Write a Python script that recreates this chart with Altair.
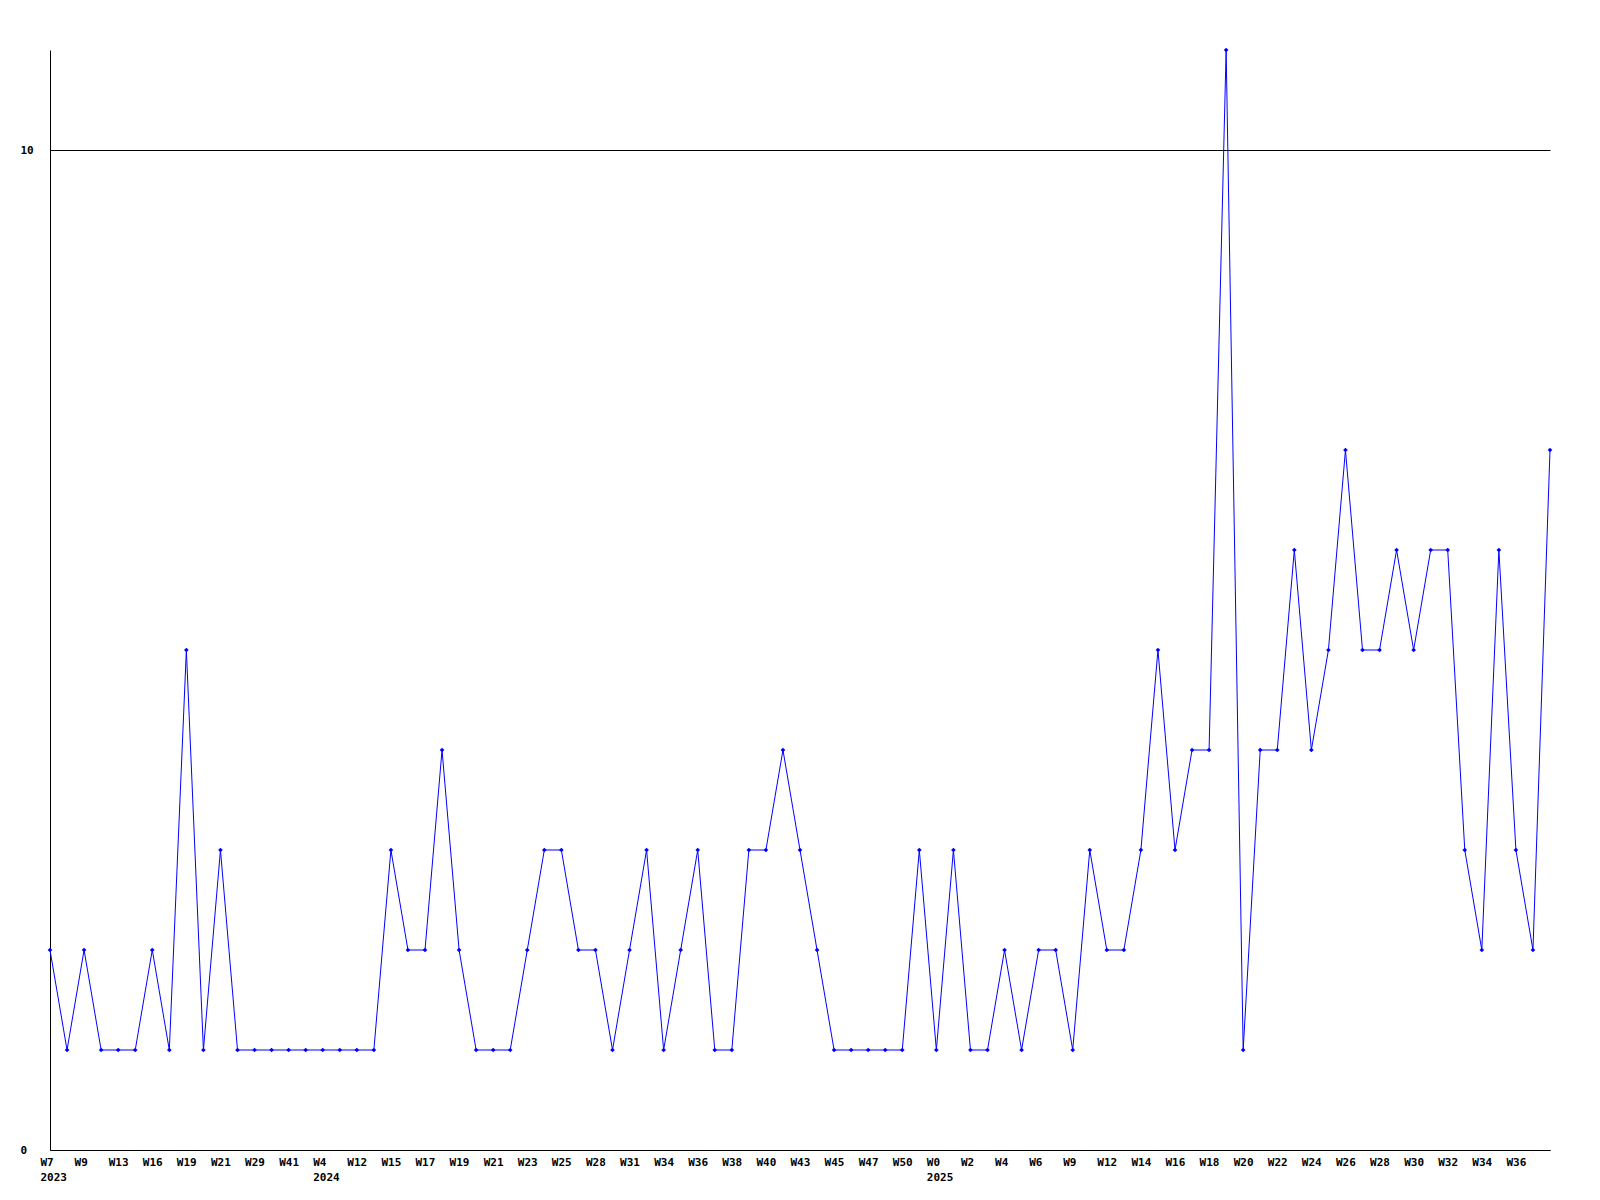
import altair as alt
import pandas as pd

years = ([2023] * 16) + ([2024] * 36) + ([2025] * 37)
weeks = [
    "W7", "W8", "W9", "W11", "W13", "W14", "W16", "W18", "W19", "W20",
    "W21", "W26", "W29", "W35", "W41", "W48",
    "W4", "W8", "W12", "W14", "W15", "W16", "W17", "W18", "W19", "W20",
    "W21", "W22", "W23", "W24", "W25", "W27", "W28", "W30", "W31", "W33",
    "W34", "W35", "W36", "W37", "W38", "W39", "W40", "W42", "W43", "W44",
    "W45", "W46", "W47", "W49", "W50", "W52",
    "W0", "W1", "W2", "W3", "W4", "W5", "W6", "W8", "W9", "W11",
    "W12", "W13", "W14", "W15", "W16", "W17", "W18", "W19", "W20", "W21",
    "W22", "W23", "W24", "W25", "W26", "W27", "W28", "W29", "W30", "W31",
    "W32", "W33", "W34", "W35", "W36", "W37", "W38",
]
values = [
    2, 1, 2, 1, 1, 1, 2, 1, 5, 1,
    3, 1, 1, 1, 1, 1, 1, 1, 1, 1,
    3, 2, 2, 4, 2, 1, 1, 1, 2, 3,
    3, 2, 2, 1, 2, 3, 1, 2, 3, 1,
    1, 3, 3, 4, 3, 2, 1, 1, 1, 1,
    1, 3, 1, 3, 1, 1, 2, 1, 2, 2,
    1, 3, 2, 2, 3, 5, 3, 4, 4, 11,
    1, 4, 4, 6, 4, 5, 7, 5, 5, 6,
    5, 6, 6, 3, 2, 6, 3, 2, 7,
]
y_ticks = [0, 10]

keys = []
for i, (yr, wk) in enumerate(zip(years, weeks)):
    first = i == 0 or years[i - 1] != yr
    keys.append(f"{yr}|{wk}|{'1' if first else '0'}")

df = pd.DataFrame({"key": keys, "value": values})
shown = keys[0:87:2]

FONT = "DejaVu Sans Mono"
BLUE = "#0000ff"

x = alt.X(
    "key:O",
    sort=keys,
    scale=alt.Scale(type="point", padding=0),
    axis=alt.Axis(
        title=None,
        values=shown,
        labelExpr="split(datum.value,'|')[2]=='1' ? [split(datum.value,'|')[1], split(datum.value,'|')[0]] : split(datum.value,'|')[1]",
        labelAngle=0,
        labelAlign="left",
        labelBaseline="top",
        labelOffset=-10,
        labelPadding=6,
        labelLineHeight=15,
        labelFont=FONT,
        labelFontSize=11,
        labelFontWeight="bold",
        labelColor="black",
        labelOverlap=False,
        labelBound=False,
        ticks=False,
        tickSize=0,
        domainColor="black",
        domainWidth=1,
        grid=False,
    ),
)
y = alt.Y(
    "value:Q",
    scale=alt.Scale(domain=[0, 11], nice=False, zero=True),
    axis=alt.Axis(
        title=None,
        values=y_ticks,
        labelAlign="left",
        labelBaseline="middle",
        labelPadding=30,
        labelFont=FONT,
        labelFontSize=11,
        labelFontWeight="bold",
        labelColor="black",
        ticks=False,
        tickSize=0,
        domainColor="black",
        domainWidth=1,
        grid=True,
        gridColor="black",
        gridOpacity=1,
        gridWidth=1,
    ),
)

line = alt.Chart(df).mark_line(color=BLUE, strokeWidth=1).encode(x=x, y=y)
pts = alt.Chart(df).mark_point(
    shape="diamond", filled=True, color=BLUE, size=22, opacity=1
).encode(x=x, y=y)

chart = (
    alt.layer(line, pts)
    .properties(
        width=1500,
        height=1100,
        autosize=alt.AutoSizeParams(type="none"),
        padding={"left": 42, "top": 42, "right": 40, "bottom": 40},
        background="white",
    )
    .configure_view(stroke=None)
)

chart.save("out.html", embed_options={"renderer": "svg", "actions": False})
